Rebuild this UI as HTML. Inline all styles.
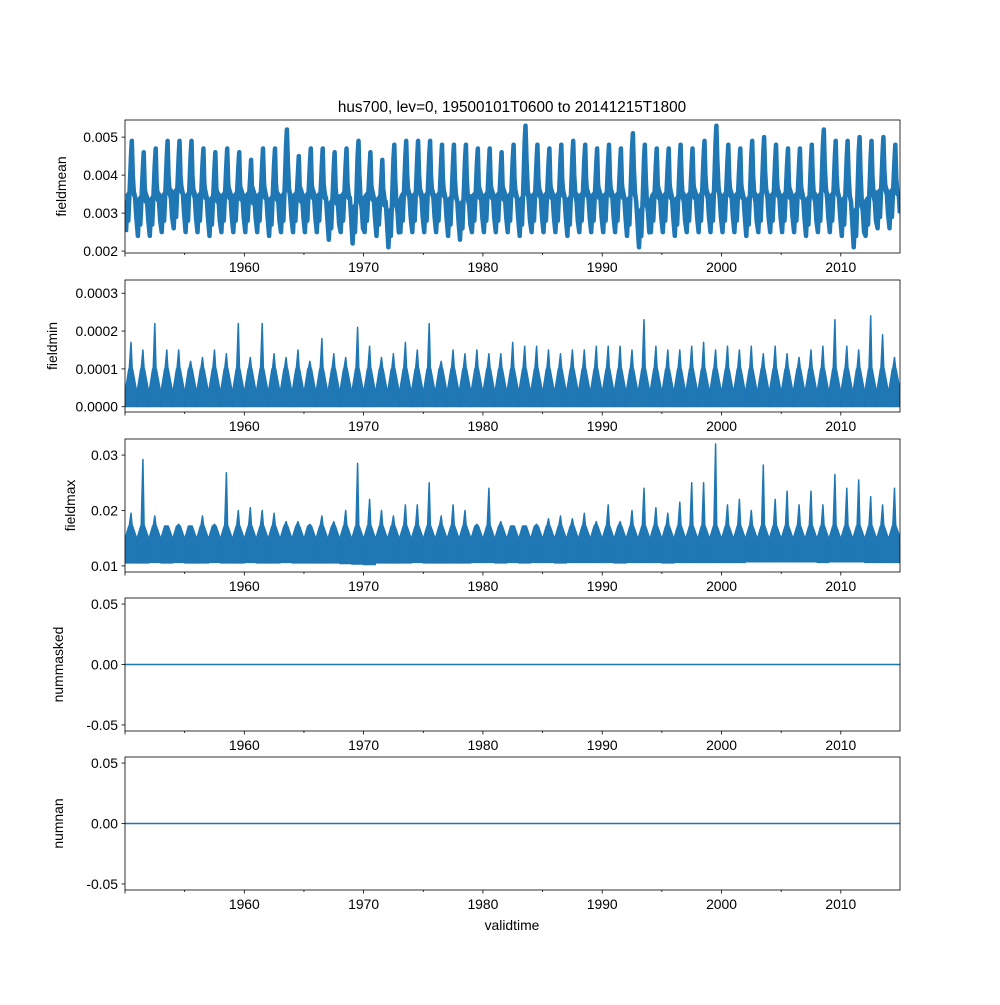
<!DOCTYPE html>
<html><head><meta charset="utf-8"><style>
body{margin:0;background:#fff}
svg text{font-family:"Liberation Sans","DejaVu Sans",sans-serif;fill:#000}
</style></head><body>
<svg id="fig" width="1000" height="1000" viewBox="0 0 1000 1000" xmlns="http://www.w3.org/2000/svg">
<rect width="1000" height="1000" fill="#fff"/>
<text x="512" y="112" font-size="15.3" text-anchor="middle">hus700, lev=0, 19500101T0600 to 20141215T1800</text>
<text x="512" y="930" font-size="13.9" text-anchor="middle">validtime</text>
</svg>
<script>
const years = [];for(let y=1950;y<=2014;y++)years.push(y);
const xTicks=[1960,1970,1980,1990,2000,2010];
const meanPeak=[0.0049,0.0046,0.0047,0.0049,0.0049,0.0049,0.0047,0.0046,0.0047,0.0046,0.0044,0.0047,0.0047,0.0052,0.0045,0.0047,0.0047,0.0046,0.0047,0.0049,0.0046,0.0044,0.0048,0.0049,0.0049,0.0049,0.0048,0.0048,0.0048,0.0047,0.0047,0.0046,0.0048,0.0053,0.0048,0.0047,0.0048,0.0049,0.0048,0.0047,0.0048,0.0047,0.0051,0.0048,0.0047,0.0047,0.0048,0.0047,0.0049,0.0053,0.0048,0.0047,0.0049,0.0050,0.0048,0.0047,0.0047,0.0048,0.0052,0.0049,0.0049,0.0050,0.0049,0.0050,0.0048];
const meanTrough=[0.0025,0.0024,0.0024,0.0025,0.0026,0.0025,0.0025,0.0024,0.0025,0.0025,0.0025,0.0025,0.0024,0.0025,0.0025,0.0025,0.0025,0.0023,0.0025,0.0022,0.0025,0.0024,0.0021,0.0025,0.0025,0.0025,0.0025,0.0024,0.0023,0.0025,0.0025,0.0025,0.0025,0.0024,0.0025,0.0025,0.0025,0.0024,0.0025,0.0025,0.0025,0.0025,0.0024,0.0021,0.0025,0.0025,0.0024,0.0025,0.0025,0.0025,0.0025,0.0025,0.0024,0.0025,0.0025,0.0025,0.0025,0.0024,0.0025,0.0025,0.0024,0.0021,0.0024,0.0026,0.0026];
const minPeak=[0.00017,0.00015,0.00022,0.00015,0.00015,0.00012,0.00013,0.00015,0.00014,0.00022,0.00013,0.00022,0.00014,0.00013,0.00015,0.00012,0.00018,0.00014,0.00013,0.00021,0.00016,0.00013,0.00014,0.00017,0.00015,0.00022,0.00012,0.00015,0.00014,0.00015,0.00014,0.00014,0.00017,0.00016,0.00016,0.00015,0.00014,0.00015,0.00015,0.00016,0.00016,0.00016,0.00015,0.00023,0.00016,0.00015,0.00015,0.00016,0.00017,0.00015,0.00016,0.00015,0.00016,0.00014,0.00016,0.00014,0.00013,0.00015,0.00016,0.00023,0.00016,0.00015,0.00024,0.00019,0.00013];
const maxPeak=[0.0195,0.0292,0.0190,0.0165,0.0175,0.0170,0.0190,0.0175,0.0268,0.0200,0.0205,0.0200,0.0195,0.0180,0.0180,0.0175,0.0190,0.0180,0.0200,0.0285,0.0220,0.0200,0.0190,0.0210,0.0210,0.0250,0.0190,0.0210,0.0200,0.0175,0.0240,0.0180,0.0170,0.0170,0.0175,0.0185,0.0190,0.0185,0.0195,0.0180,0.0210,0.0180,0.0200,0.0240,0.0205,0.0195,0.0215,0.0250,0.0250,0.0320,0.0210,0.0220,0.0200,0.0282,0.0220,0.0235,0.0210,0.0235,0.0210,0.0265,0.0240,0.0255,0.0225,0.0210,0.0240];
const maxTrough=[0.0105,0.0105,0.0106,0.0105,0.0106,0.0105,0.0105,0.0106,0.0105,0.0105,0.0106,0.0105,0.0105,0.0106,0.0105,0.0105,0.0105,0.0105,0.0104,0.0103,0.0102,0.0105,0.0105,0.0105,0.0106,0.0105,0.0105,0.0105,0.0105,0.0106,0.0106,0.0105,0.0106,0.0105,0.0106,0.0106,0.0105,0.0106,0.0106,0.0106,0.0106,0.0105,0.0106,0.0106,0.0106,0.0105,0.0106,0.0106,0.0106,0.0106,0.0106,0.0106,0.0107,0.0107,0.0107,0.0107,0.0107,0.0107,0.0106,0.0107,0.0107,0.0107,0.0106,0.0106,0.0106];
const maskedVals=[0,0];
const nanVals=[0,0];

const NS="http://www.w3.org/2000/svg";
const svg=document.getElementById('fig');
const X0=125,X1=900,T0=1950.0,T1=2014.96;
const C="#1f77b4";
function sx(t){return X0+(t-T0)/(T1-T0)*(X1-X0);}
function el(tag,attrs,parent){const e=document.createElementNS(NS,tag);for(const k in attrs)e.setAttribute(k,attrs[k]);(parent||svg).appendChild(e);return e;}

const panels=[
 {name:'fieldmean',top:120,bot:253,ymin:0.00195,ymax:0.00545,ticks:[0.002,0.003,0.004,0.005],fmt:v=>v.toFixed(3)},
 {name:'fieldmin',top:280,bot:412,ymin:-0.000014,ymax:0.000335,ticks:[0,0.0001,0.0002,0.0003],fmt:v=>v.toFixed(4)},
 {name:'fieldmax',top:439,bot:572,ymin:0.0089,ymax:0.0329,ticks:[0.01,0.02,0.03],fmt:v=>v.toFixed(2)},
 {name:'nummasked',top:598,bot:731,ymin:-0.055,ymax:0.055,ticks:[-0.05,0,0.05],fmt:v=>v.toFixed(2)},
 {name:'numnan',top:757,bot:890,ymin:-0.055,ymax:0.055,ticks:[-0.05,0,0.05],fmt:v=>v.toFixed(2)}
];
panels.forEach((p,pi)=>{
 const g=el('g',{});
 
 
 const sy=v=>p.bot-(v-p.ymin)/(p.ymax-p.ymin)*(p.bot-p.top);
 const clipId='clip'+pi;
 const cp=el('clipPath',{id:clipId},g);el('rect',{x:X0,y:p.top,width:X1-X0,height:p.bot-p.top},cp);
 const dg=el('g',{'clip-path':'url(#'+clipId+')'},g);
 
 
 const P=q=>sx(q[0]).toFixed(1)+','+sy(q[1]).toFixed(1);
 if(pi===0){
  let up=[],lo=[],pts=[];
  years.forEach((y,i)=>{
   const tr=meanTrough[i],pk=meanPeak[i];
   up.push([y+0.05,tr+0.0010],[y+0.3,tr+0.0011],[y+0.5,pk-0.0005],[y+0.6,pk-0.0006],[y+0.85,tr+0.0012]);
   lo.push([y+0.1,tr+0.0001],[y+0.3,tr+0.0004],[y+0.5,tr+0.0011],[y+0.65,tr+0.0010],[y+0.9,tr+0.0003]);
   pts.push([y+0.08,tr],[y+0.2,tr+0.0008],[y+0.28,tr+0.0003],[y+0.4,(tr+pk)/2],[y+0.5,pk-0.0004],[y+0.57,pk],[y+0.65,pk-0.0009],[y+0.75,(tr+pk)/2-0.0002],[y+0.85,tr+0.0009],[y+0.95,tr+0.0004]);
  });
  const band=el('polygon',{points:up.map(P).join(' ')+' '+lo.slice().reverse().map(P).join(' '),fill:C,stroke:'none'},dg);
  
  
  const line=el('polyline',{points:pts.map(P).join(' '),fill:'none',stroke:C,'stroke-width':4.5,'stroke-linejoin':'round'},dg);
  
  
 } else if(pi===1||pi===2){
  const peaks=pi===1?minPeak:maxPeak;
  years.forEach((y,i)=>{
   const lo=pi===1?0:maxTrough[i];
   const hiBase=pi===1?0.00004:0.0150;
   const hiSummer=pi===1?0.00010:0.0172;
   const band=el('polygon',{points:[[y,lo],[y,hiBase],[y+0.3,hiSummer],[y+0.65,hiSummer],[y+1,hiBase],[y+1,lo]].map(P).join(' '),fill:C,stroke:C,'stroke-width':1},dg);
   
   
   const sp=el('polygon',{points:[[y+0.36,hiSummer],[y+0.5,peaks[i]],[y+0.6,hiSummer]].map(P).join(' '),fill:C,stroke:C,'stroke-width':1.5,'stroke-linejoin':'round'},dg);
   
   
  });
 } else {
  const vals=pi===3?maskedVals:nanVals;
  const ln=el('line',{x1:X0,x2:X1,y1:sy(vals[0]),y2:sy(vals[1]),stroke:C,'stroke-width':1.5},dg);
  
  
 }
 const fr=el('rect',{x:X0,y:p.top,width:X1-X0,height:p.bot-p.top,fill:'none',stroke:'#000','stroke-width':0.8},g);
 
 
 p.ticks.forEach(v=>{
  const y=sy(v);
  el('line',{x1:X0-3.5,x2:X0,y1:y,y2:y,stroke:'#000','stroke-width':0.8},g);
  const t=el('text',{x:X0-7,y:y+5,'font-size':13.9,'text-anchor':'end'},g);t.textContent=p.fmt(v);
  
  
 });
 for(let yr=1950;yr<=2010;yr+=5){
  const x=sx(yr);const major=xTicks.includes(yr);
  el('line',{x1:x,x2:x,y1:p.bot,y2:p.bot+(major||yr===1950?3.5:2),stroke:'#000','stroke-width':0.8},g);
 }
 xTicks.forEach(yr=>{
  const t=el('text',{x:sx(yr),y:p.bot+19,'font-size':13.9,'text-anchor':'middle'},g);t.textContent=yr;
  
  
 });
 const cy=(p.top+p.bot)/2;
 const yl=el('text',{x:0,y:0,'font-size':13.9,'text-anchor':'middle',transform:'translate('+(pi===0?66:(pi===1?57:(pi===2?75:63)))+','+cy+') rotate(-90)'},g);
 yl.textContent=p.name;
 
 
});
</script>
</body></html>
